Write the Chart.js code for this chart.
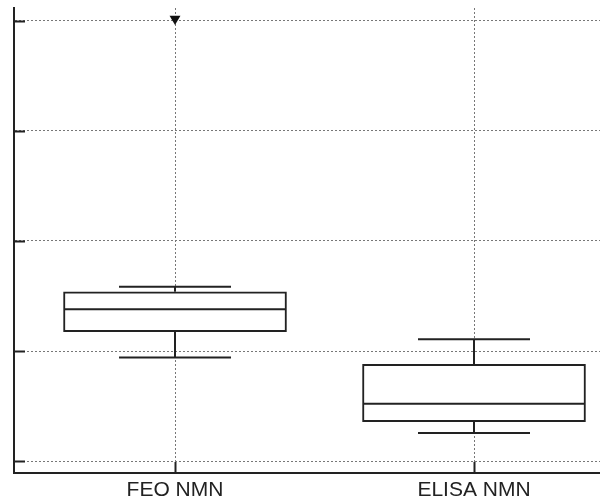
<!DOCTYPE html>
<html>
<head>
<meta charset="utf-8">
<script src="https://cdn.jsdelivr.net/npm/chart.js@4.4.1/dist/chart.umd.min.js"></script>
<style>
  html, body { margin: 0; padding: 0; background: #fff; }
</style>
</head>
<body>
<canvas id="chart" width="600" height="499"></canvas>
<script>
const categories = ['FEO NMN', 'ELISA NMN'];
const whiskerLow = [0.94, 0.255];
const quartile1 = [1.175, 0.357];
const medians = [1.379, 0.521];
const quartile3 = [1.539, 0.879];
const whiskerHigh = [1.584, 1.106];
// off-scale value shown as a triangle at the top
const outlierCat = [1];
const outlierVal = [4.02];
const yTicks = [0, 1, 2, 3, 4];

const INK = '#222';

// whiskers, caps, medians and the inward tick marks
const boxExtras = {
  id: 'boxExtras',
  afterDatasetsDraw(chart) {
    const { ctx, scales: { x, y } } = chart;
    const boxes = chart.getDatasetMeta(0).data;
    const line = (x1, y1, x2, y2) => {
      ctx.beginPath();
      ctx.moveTo(x1, y1);
      ctx.lineTo(x2, y2);
      ctx.stroke();
    };
    ctx.save();
    ctx.strokeStyle = INK;
    ctx.lineWidth = 2;
    categories.forEach((c, i) => {
      const cx = x.getPixelForValue(i + 1);
      const yHi = y.getPixelForValue(whiskerHigh[i]);
      const yLo = y.getPixelForValue(whiskerLow[i]);
      line(cx, y.getPixelForValue(quartile3[i]), cx, yHi);
      line(cx, y.getPixelForValue(quartile1[i]), cx, yLo);
      line(cx - 56, yHi, cx + 56, yHi);
      line(cx - 56, yLo, cx + 56, yLo);
      const b = boxes[i];
      const ym = y.getPixelForValue(medians[i]);
      line(b.x - b.width / 2 + 1, ym, b.x + b.width / 2 - 1, ym);
    });
    ctx.restore();
  },
  afterDraw(chart) {
    const { ctx, chartArea, scales: { x, y } } = chart;
    ctx.save();
    ctx.strokeStyle = INK;
    ctx.lineWidth = 2;
    y.ticks.forEach(t => {
      const py = Math.round(y.getPixelForValue(t.value)) + 0.5;
      ctx.beginPath();
      ctx.moveTo(chartArea.left, py);
      ctx.lineTo(chartArea.left + 11, py);
      ctx.stroke();
    });
    x.ticks.forEach(t => {
      const px = Math.round(x.getPixelForValue(t.value)) + 0.5;
      ctx.beginPath();
      ctx.moveTo(px, chartArea.bottom);
      ctx.lineTo(px, chartArea.bottom - 11);
      ctx.stroke();
    });
    ctx.restore();
  }
};

new Chart(document.getElementById('chart'), {
  type: 'bar',
  data: {
    datasets: [{
      type: 'bar',
      data: categories.map((c, i) => ({ x: i + 1, y: [quartile1[i], quartile3[i]] })),
      backgroundColor: '#fff',
      borderColor: INK,
      borderWidth: 2,
      borderSkipped: false,
      barThickness: 223
    }, {
      type: 'scatter',
      data: outlierCat.map((c, i) => ({ x: c, y: outlierVal[i] })),
      pointStyle: 'triangle',
      rotation: 180,
      radius: 6.3,
      backgroundColor: '#111',
      borderColor: '#111',
      borderWidth: 0
    }]
  },
  options: {
    responsive: false,
    devicePixelRatio: 1,
    animation: false,
    layout: { autoPadding: false, padding: { top: 8, right: 0, bottom: 0, left: 0 } },
    plugins: { legend: { display: false }, tooltip: { enabled: false } },
    scales: {
      x: {
        type: 'linear',
        offset: false,
        min: 0.4615,
        max: 2.4214,
        afterFit: s => { s.height = 26; s.paddingRight = 0; s.paddingLeft = 0; },
        afterBuildTicks: s => { s.ticks = categories.map((c, i) => ({ value: i + 1 })); },
        ticks: {
          callback: v => categories[v - 1] || '',
          font: { family: 'Liberation Sans, Arial, sans-serif', size: 21 },
          color: INK,
          padding: 5,
          autoSkip: false,
          maxRotation: 0
        },
        grid: { offset: false, color: '#777', lineWidth: 1, drawTicks: false },
        border: { display: true, color: INK, width: 2, dash: [2, 2] }
      },
      y: {
        min: -0.109,
        max: 4.118,
        afterFit: s => { s.width = 14; },
        afterBuildTicks: s => { s.ticks = yTicks.map(v => ({ value: v })); },
        ticks: { display: false },
        grid: { color: '#777', lineWidth: 1, drawTicks: false },
        border: { display: true, color: INK, width: 2, dash: [2, 2] }
      }
    }
  },
  plugins: [boxExtras]
});
</script>
</body>
</html>
